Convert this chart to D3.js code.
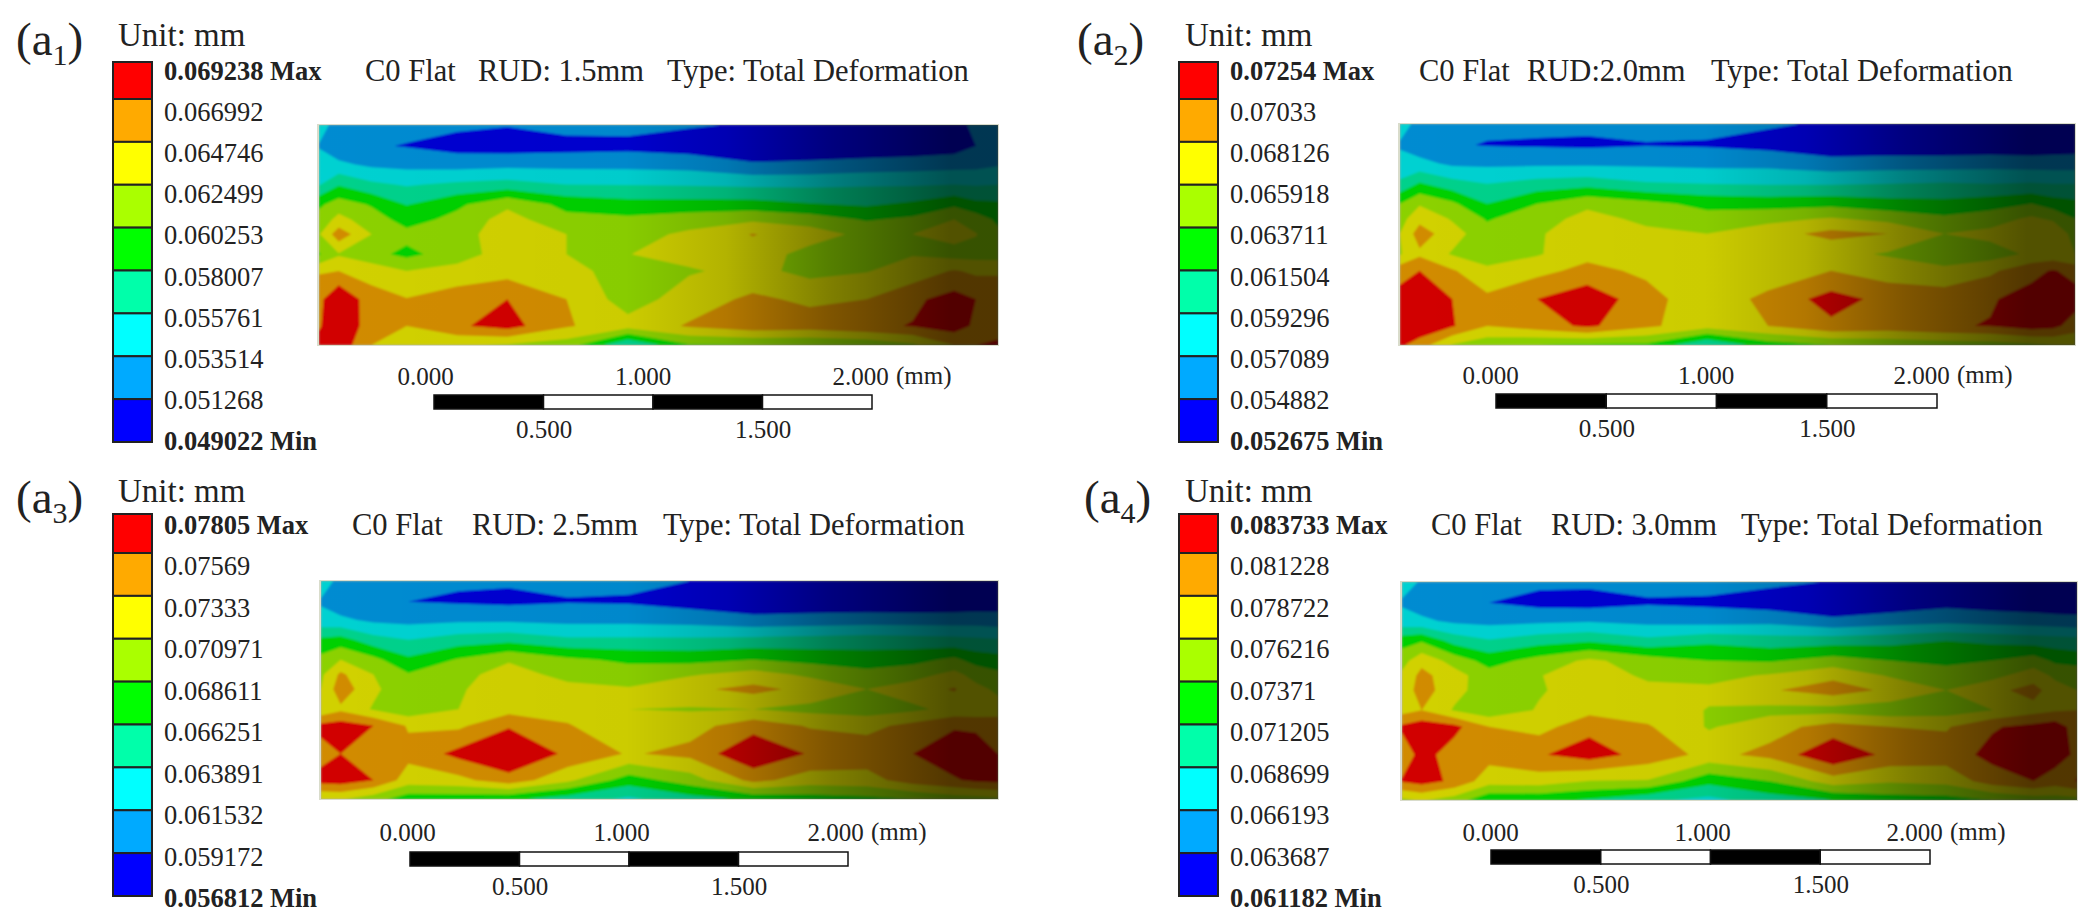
<!DOCTYPE html>
<html>
<head>
<meta charset="utf-8">
<script src="https://cdn.jsdelivr.net/npm/d3@7"></script>
<style>
  html, body { margin: 0; padding: 0; background: #fff; }
  svg { display: block; }
  text { font-family: "Liberation Serif", serif; fill: #222; }
</style>
</head>
<body>
<div id="vis"></div>
<script>
// colour bar labels, top to bottom (mm)
const legendA1 = [0.069238, 0.066992, 0.064746, 0.062499, 0.060253, 0.058007, 0.055761, 0.053514, 0.051268, 0.049022];
const legendA2 = [0.07254, 0.07033, 0.068126, 0.065918, 0.063711, 0.061504, 0.059296, 0.057089, 0.054882, 0.052675];
const legendA3 = [0.07805, 0.07569, 0.07333, 0.070971, 0.068611, 0.066251, 0.063891, 0.061532, 0.059172, 0.056812];
const legendA4 = [0.083733, 0.081228, 0.078722, 0.076216, 0.07371, 0.071205, 0.068699, 0.066193, 0.063687, 0.061182];

const bandColors = ['#ff0000', '#ffaa00', '#ffff00', '#aaff00', '#00ff00', '#00ffaa', '#00ffff', '#00aaff', '#0000ff'];

const panelNames = ['a1', 'a2', 'a3', 'a4'];
const rudLabels = ['RUD: 1.5mm', 'RUD:2.0mm', 'RUD: 2.5mm', 'RUD: 3.0mm'];
const lengthTicks = [0, 1, 2];
const rulerTicks = [0.5, 1.5];

// mesh nodes across and through the part (mm)
const nodeX = [0, 0.09, 0.24, 0.40, 0.63, 0.86, 1.13, 1.41, 1.69, 1.98, 2.24, 2.50, 2.71, 2.90, 3.00, 3.10];
const nodeY = [0, 0.095, 0.179, 0.27, 0.361, 0.429, 0.497, 0.588, 0.664, 0.792, 0.914, 1];

// readings at the mesh nodes, given as position on the colour bar (0 = Min, 9 = Max)
const gridA1 = [
  [2.4,1.6,1.4,1.3,1.2,1.05,1.4,1.35,1.1,0.9,0.8,0.6,0.6,0.85,1.1,1.5],
  [1.95,1.3,1.1,0.95,0.6,0.5,0.6,0.7,0.5,0.3,0.25,0.2,0.3,0.5,1.0,1.3],
  [2.3,2.2,1.8,1.7,1.6,1.7,1.7,1.7,1.6,1.1,1.2,1.4,1.5,1.6,1.7,1.9],
  [2.9,3.9,3.2,2.9,3.2,3.4,3.0,2.95,2.9,2.8,2.8,2.9,2.9,3.0,2.9,3.0],
  [4.8,5.5,4.9,3.95,4.8,5.8,4.7,4.4,4.4,4.4,4.1,3.9,4.2,4.8,4.3,4.2],
  [5.4,6.3,5.5,4.6,5.3,6.4,5.3,5.2,5.5,5.8,5.5,4.9,5.2,6.0,5.5,4.8],
  [5.9,7.6,6.0,5.3,5.7,6.4,6.0,5.6,6.2,7.05,6.5,5.7,6.0,6.4,6.05,5.2],
  [4.9,5.9,5.3,4.75,5.5,6.5,6.0,5.98,6.3,6.6,5.6,5.3,5.95,5.6,5.6,5.5],
  [6.9,7.0,6.6,6.0,6.4,6.6,6.3,5.6,5.9,6.3,5.7,5.95,6.4,7.1,6.8,6.9],
  [7.7,9.0,7.4,7.05,7.5,8.0,7.0,5.5,6.5,7.2,6.8,7.0,7.8,8.4,8.0,7.5],
  [7.9,8.7,7.6,7.0,7.85,8.4,7.1,6.4,7.1,7.6,7.5,7.8,8.05,8.5,7.8,7.3],
  [8.3,8.7,7.0,6.1,6.1,5.9,5.5,3.0,4.9,5.0,5.0,5.2,5.8,7.0,8.0,8.3]
];
const gridA2 = [
  [2.4,1.7,1.3,1.2,1.2,1.2,1.3,1.3,1.1,0.9,0.7,0.5,0.7,0.9,0.9,0.8],
  [1.9,1.4,1.1,0.95,0.9,0.85,0.95,0.9,0.7,0.3,0.3,0.3,0.3,0.3,0.4,0.5],
  [2.3,2.3,1.8,1.8,1.8,1.8,1.8,1.7,1.7,1.4,1.5,1.5,1.6,1.5,1.5,1.5],
  [3.2,4.1,3.4,3.0,3.4,3.6,3.1,3.0,2.9,2.9,3.0,3.1,3.0,3.1,3.0,3.0],
  [5.0,5.9,5.2,4.0,5.0,5.8,5.3,4.7,4.6,4.7,4.4,4.3,4.6,5.0,4.5,4.3],
  [5.6,6.7,5.9,4.9,5.6,6.3,5.8,5.4,5.7,6.1,5.7,5.2,5.5,6.2,5.8,5.0],
  [6.0,7.5,6.4,5.4,5.9,6.5,6.2,6.0,6.6,7.3,7.0,6.0,6.3,6.9,7.0,5.5],
  [5.9,6.8,5.9,5.3,5.9,6.7,6.4,6.2,6.4,6.3,5.9,5.5,5.5,6.2,6.3,6.0],
  [7.6,8.0,7.1,6.3,6.7,7.3,6.8,6.0,6.3,7.0,6.5,6.2,6.8,7.7,8.1,7.6],
  [8.4,8.9,8.0,7.2,8.0,8.7,7.4,6.3,7.3,8.4,7.7,7.6,7.9,8.4,8.6,8.5],
  [8.6,8.8,8.1,7.0,7.5,8.2,7.2,6.4,7.0,7.8,7.6,7.9,8.05,8.5,8.3,7.5],
  [8.2,7.5,5.9,5.3,5.0,4.8,4.8,3.0,4.5,5.0,5.2,5.4,5.5,5.8,6.0,6.1]
];
const gridA3 = [
  [2.5,1.7,1.4,1.2,1.1,1.1,1.2,1.2,1.0,0.8,0.6,0.5,0.6,0.7,0.7,0.6],
  [1.9,1.4,1.1,1.0,0.9,0.8,0.95,0.9,0.6,0.3,0.3,0.3,0.2,0.3,0.4,0.5],
  [2.3,2.2,1.8,1.7,1.8,1.8,1.7,1.7,1.6,1.3,1.4,1.5,1.5,1.5,1.5,1.4],
  [4.2,4.4,3.4,3.0,3.5,3.7,3.2,3.2,3.2,3.3,3.4,3.5,3.4,3.3,3.2,3.1],
  [5.3,6.0,5.3,4.2,5.1,5.9,5.2,4.8,4.7,5.0,4.7,4.5,4.7,5.2,4.6,4.4],
  [5.8,7.2,6.0,5.1,5.7,6.4,5.7,5.5,5.9,6.4,5.8,5.3,5.6,6.3,5.6,5.2],
  [6.0,7.6,6.2,5.3,5.9,6.5,6.3,6.1,6.8,7.3,6.7,6.0,6.5,7.1,6.3,5.8],
  [6.2,6.8,5.9,5.3,6.0,6.6,6.5,6.0,5.9,6.0,5.7,5.5,5.8,6.3,6.2,6.4],
  [8.3,8.5,8.0,6.9,6.8,7.9,7.1,6.0,6.6,7.6,6.9,6.7,7.3,7.9,7.9,7.7],
  [7.6,8.0,7.7,7.3,8.3,9.0,7.8,6.9,7.3,8.9,7.9,7.6,8.0,8.6,8.3,8.0],
  [8.4,8.5,8.0,6.5,6.7,7.6,6.2,4.5,5.5,7.3,6.5,6.6,7.5,7.9,8.2,8.3],
  [6.0,6.1,5.4,4.4,4.4,4.2,3.5,2.8,3.6,4.2,4.5,4.7,5.0,5.5,5.6,5.8]
];
const gridA4 = [
  [2.4,1.9,1.5,1.3,1.2,1.2,1.3,1.4,1.2,0.95,0.85,1.0,0.9,0.7,0.5,0.4],
  [1.9,1.5,1.1,1.0,0.7,0.6,0.9,0.8,0.5,0.3,0.4,0.7,0.5,0.4,0.3,0.4],
  [2.3,2.2,1.8,1.7,1.8,1.9,1.7,1.6,1.7,1.2,1.5,1.7,1.6,1.5,1.4,1.3],
  [4.6,4.9,3.6,3.1,3.6,3.9,3.3,3.8,3.5,3.6,3.7,4.0,3.8,3.6,3.5,3.4],
  [5.6,6.7,5.6,4.6,5.4,6.2,5.5,5.0,4.9,5.4,5.0,4.8,5.0,5.5,4.8,4.6],
  [6.2,7.3,6.4,5.4,5.95,6.6,5.8,5.7,6.1,6.75,5.9,5.4,5.7,6.5,5.8,5.7],
  [6.3,7.5,6.3,5.5,5.9,6.5,6.3,6.2,6.9,7.5,6.8,6.0,6.7,7.4,6.4,6.0],
  [6.6,7.0,5.9,5.3,6.1,6.7,6.5,5.95,5.7,5.6,5.4,5.5,5.98,6.6,6.9,7.0],
  [8.2,8.6,8.3,7.0,6.6,7.7,7.1,5.9,6.6,7.4,7.0,6.9,7.9,8.3,8.6,7.5],
  [7.3,8.4,7.5,7.4,7.9,8.5,7.6,6.7,7.3,8.9,7.7,7.5,8.3,8.9,8.5,7.8],
  [8.1,8.4,7.8,6.4,6.5,5.95,5.9,4.3,5.0,6.5,6.1,6.3,7.5,8.0,7.5,8.05],
  [5.8,6.1,5.5,4.2,4.2,3.9,3.2,2.7,3.5,4.0,4.5,4.6,5.0,5.4,5.5,5.6]
];

// where everything sits on the page
const layouts = [
  { legend: legendA1, grid: gridA1, tag: [16, 55], unitX: 118, unitY: 35, barX: 113, barTop: 62, barFirst: 99, barBottom: 442,
    labelX: 164, labelTop: 71, labelBottom: 441, title: [365, 478, 667],
    plot: [319, 125, 998, 345], ruler: [434, 872, 395, 409], tickRange: [425, 860], tickY: 388, rulerY: 417 },
  { legend: legendA2, grid: gridA2, tag: [1077, 55], unitX: 1185, unitY: 35, barX: 1179, barTop: 62, barFirst: 99, barBottom: 442,
    labelX: 1230, labelTop: 71, labelBottom: 441, title: [1419, 1527, 1711],
    plot: [1400, 124, 2075, 345], ruler: [1496, 1937, 394, 408], tickRange: [1490, 1921], tickY: 387, rulerY: 416 },
  { legend: legendA3, grid: gridA3, tag: [16, 513], unitX: 118, unitY: 491, barX: 113, barTop: 514, barFirst: 553, barBottom: 896,
    labelX: 164, labelTop: 525, labelBottom: 898, title: [352, 472, 663],
    plot: [321, 581, 998, 799], ruler: [410, 848, 852, 866], tickRange: [407, 835], tickY: 844, rulerY: 874 },
  { legend: legendA4, grid: gridA4, tag: [1084, 513], unitX: 1185, unitY: 491, barX: 1179, barTop: 514, barFirst: 553, barBottom: 896,
    labelX: 1230, labelTop: 525, labelBottom: 898, title: [1431, 1551, 1741],
    plot: [1402, 582, 2077, 800], ruler: [1491, 1930, 850, 864], tickRange: [1490, 1914], tickY: 844, rulerY: 872 }
];

const svg = d3.select('#vis').append('svg')
  .attr('width', 2095)
  .attr('height', 924);

const defs = svg.append('defs');

defs.append('filter').attr('id', 'soft')
  .attr('x', '-2%').attr('y', '-2%').attr('width', '104%').attr('height', '104%')
  .append('feGaussianBlur').attr('stdDeviation', 1);

// the part is lit from the left, so it falls off to nearly black on the right
const shade = defs.append('linearGradient').attr('id', 'shade');
[[0, 0.18], [0.45, 0.2], [0.6, 0.3], [0.75, 0.5], [0.93, 0.68], [1, 0.68]].forEach(function (s) {
  shade.append('stop').attr('offset', s[0]).attr('stop-color', '#000').attr('stop-opacity', s[1]);
});

layouts.forEach(function (p, k) {
  const g = svg.append('g');
  const values = p.legend.slice().reverse();   // Min first

  // panel tag and unit
  const tag = g.append('text').attr('x', p.tag[0]).attr('y', p.tag[1]).style('font-size', '47px');
  tag.append('tspan').text('(a');
  tag.append('tspan').attr('dy', 10).style('font-size', '30px').text(panelNames[k].slice(1));
  tag.append('tspan').attr('dy', -10).text(')');

  g.append('text').attr('x', p.unitX).attr('y', p.unitY + 11).style('font-size', '33px').text('Unit: mm');

  // colour bar
  const boxY = d3.scaleLinear().domain([1, 9]).range([p.barFirst, p.barBottom]);
  g.append('g').selectAll('rect').data(bandColors).enter().append('rect')
    .attr('x', p.barX)
    .attr('y', function (d, i) { return i === 0 ? p.barTop : boxY(i); })
    .attr('width', 39)
    .attr('height', function (d, i) { return i === 0 ? p.barFirst - p.barTop : boxY(i + 1) - boxY(i); })
    .attr('fill', function (d) { return d; })
    .attr('stroke', '#222')
    .attr('stroke-width', 2);

  const labelY = d3.scaleLinear().domain([0, 9]).range([p.labelTop, p.labelBottom]);
  g.append('g').selectAll('text').data(p.legend).enter().append('text')
    .attr('x', p.labelX)
    .attr('y', function (d, i) { return labelY(i) + 9; })
    .style('font-size', '26.5px')
    .style('font-weight', function (d, i) { return i === 0 || i === 9 ? 'bold' : 'normal'; })
    .text(function (d, i) { return d + (i === 0 ? ' Max' : i === 9 ? ' Min' : ''); });

  // heading
  ['C0 Flat', rudLabels[k], 'Type: Total Deformation'].forEach(function (t, i) {
    g.append('text').attr('x', p.title[i]).attr('y', p.labelTop + 10).style('font-size', '30.5px').text(t);
  });

  // contour bands
  const px = d3.scaleLinear().domain([0, 3.1]).range([p.plot[0], p.plot[2]]);
  const py = d3.scaleLinear().domain([0, 1]).range([p.plot[1], p.plot[3]]);
  const colIndex = d3.scaleLinear().domain(d3.range(nodeX.length)).range(nodeX).clamp(true);
  const rowIndex = d3.scaleLinear().domain(d3.range(nodeY.length)).range(nodeY).clamp(true);
  const toMm = d3.scaleLinear().domain(d3.range(10)).range(values);

  // d3.contours puts a value at i + 0.5, the mesh scales undo that
  const path = d3.geoPath(d3.geoTransform({
    point: function (x, y) {
      this.stream.point(px(colIndex(x - 0.5)), py(rowIndex(y - 0.5)));
    }
  }));

  const contours = d3.contours()
    .size([nodeX.length, nodeY.length])
    .thresholds(values.slice(0, -1))
    (d3.merge(p.grid).map(toMm));

  const clipId = 'clip' + k;
  defs.append('clipPath').attr('id', clipId).append('rect')
    .attr('x', p.plot[0]).attr('y', p.plot[1])
    .attr('width', p.plot[2] - p.plot[0]).attr('height', p.plot[3] - p.plot[1]);

  g.append('rect')
    .attr('x', p.plot[0] - 2).attr('y', p.plot[1] - 1)
    .attr('width', p.plot[2] - p.plot[0] + 3).attr('height', p.plot[3] - p.plot[1] + 2)
    .attr('fill', '#d9dccb');

  const field = g.append('g').attr('clip-path', 'url(#' + clipId + ')');
  const soft = field.append('g').attr('filter', 'url(#soft)');
  soft.selectAll('path').data(contours).enter().append('path')
    .attr('d', path)
    .attr('fill', function (d, i) { return bandColors[8 - i]; });
  field.append('rect')
    .attr('x', p.plot[0]).attr('y', p.plot[1])
    .attr('width', p.plot[2] - p.plot[0]).attr('height', p.plot[3] - p.plot[1])
    .attr('fill', 'url(#shade)');

  // length ruler
  const ruler = d3.scaleLinear().domain([0, 2]).range([p.ruler[0], p.ruler[1]]);
  const steps = d3.range(0, 2, 0.5);
  g.append('g').selectAll('rect').data(steps).enter().append('rect')
    .attr('x', function (d) { return ruler(d); })
    .attr('y', p.ruler[2])
    .attr('width', function (d) { return ruler(d + 0.5) - ruler(d); })
    .attr('height', p.ruler[3] - p.ruler[2])
    .attr('fill', function (d, i) { return i % 2 === 0 ? '#000' : '#fff'; })
    .attr('stroke', '#111')
    .attr('stroke-width', 1.5);

  const tickScale = d3.scaleLinear().domain([0, 2]).range(p.tickRange);
  const topAxis = g.append('g').attr('transform', 'translate(0,' + p.tickY + ')')
    .call(d3.axisTop(tickScale).tickValues(lengthTicks).tickFormat(d3.format('.3f')).tickSize(0));
  const lowAxis = g.append('g').attr('transform', 'translate(0,' + p.rulerY + ')')
    .call(d3.axisBottom(ruler).tickValues(rulerTicks).tickFormat(d3.format('.3f')).tickSize(0));
  [topAxis, lowAxis].forEach(function (a) {
    a.select('.domain').remove();
    a.selectAll('text').style('font-size', '25px').style('font-family', '"Liberation Serif", serif').attr('fill', '#222');
  });
  g.append('text').attr('x', tickScale(2) + 36).attr('y', p.tickY - 4).style('font-size', '25px').text('(mm)');
});
</script>
</body>
</html>
